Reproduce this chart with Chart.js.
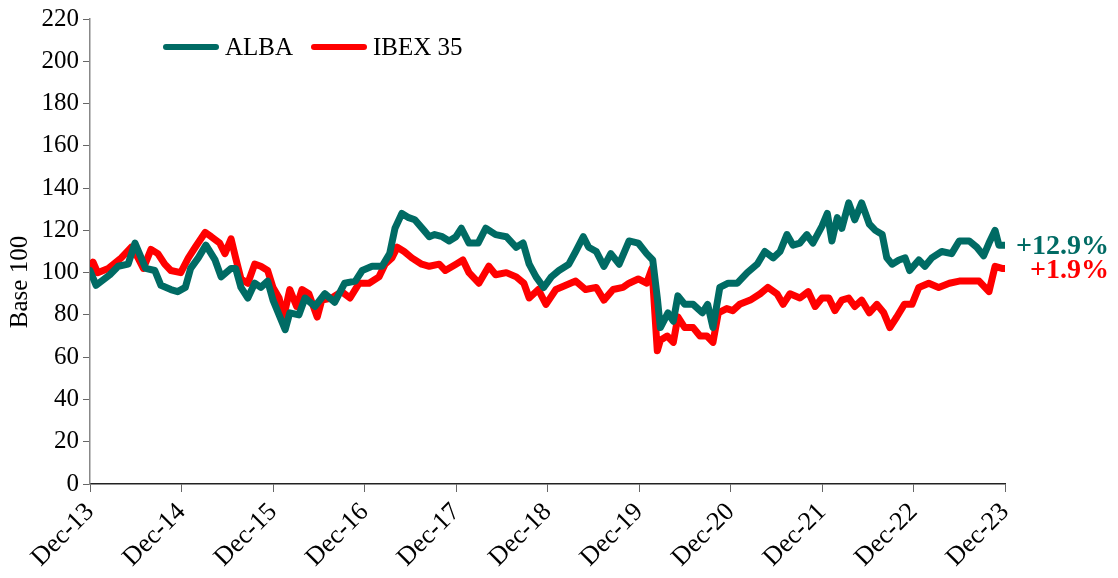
<!DOCTYPE html>
<html>
<head>
<meta charset="utf-8">
<script src="https://cdn.jsdelivr.net/npm/chart.js@4.4.1/dist/chart.umd.min.js"></script>
<style>
  body { margin: 0; background: #fff; }
  canvas { display: block; }
</style>
</head>
<body>
<canvas id="canvas" width="1118" height="578"></canvas>
<script>
const tickLabels = ['Dec-13','Dec-14','Dec-15','Dec-16','Dec-17','Dec-18','Dec-19','Dec-20','Dec-21','Dec-22','Dec-23']

// months since Dec-13, base 100 values
const albaMonths = [0,0.8,2.6,3.7,5.0,5.9,7.3,8.5,9.3,10.6,11.5,12.5,13.2,14.2,15.2,16.4,17.2,18.5,19.1,19.8,20.7,21.6,22.4,23.3,24.0,25.6,26.2,27.4,28.2,29.5,30.8,32.1,33.4,34.8,35.7,37.0,38.3,39.3,40.0,40.9,41.8,42.6,43.8,44.5,45.2,46.2,47.1,48.0,48.7,49.7,50.9,51.9,53.2,54.6,55.9,56.8,57.6,58.5,59.5,60.5,61.5,62.8,63.7,64.7,65.4,66.4,67.4,68.3,69.4,70.7,71.9,73.0,73.8,74.4,74.8,75.8,76.5,77.1,78.0,79.1,80.3,81.0,81.7,82.6,83.7,84.9,86.2,87.5,88.5,89.6,90.5,91.4,92.2,93.1,94.0,94.8,96.0,96.7,97.3,98.0,98.6,99.5,100.3,101.2,102.2,103.0,103.9,104.5,105.2,106.1,106.9,107.5,108.7,109.5,110.4,111.7,113.0,114.0,115.3,116.3,117.2,117.9,118.7,119.2,120]
const albaValues = [101,94,99,103,104,114,102,101,94,92,91,93,102,107,113,106,98,102,102,93,88,95,93,96,87,73,81,80,88,84,90,86,95,96,101,103,103,109,121,128,126,125,120,117,118,117,115,117,121,114,114,121,118,117,112,114,104,98,93,98,101,104,110,117,112,110,103,109,104,115,114,109,106,88,74,81,77,89,85,85,81,85,74,93,95,95,100,104,110,107,110,118,113,114,118,114,122,128,115,126,121,133,125,133,123,120,118,107,104,106,107,101,106,103,107,110,109,115,115,112,108,114,120,113,113]

const ibexMonths = [0,0.4,1.0,2.4,4.1,5.4,6.3,7.0,8.0,8.9,9.8,10.6,11.9,12.9,13.8,15.1,15.9,17.0,17.7,18.5,19.1,19.8,20.7,21.6,22.4,23.3,24.0,24.8,25.4,26.2,27.1,27.8,28.7,29.8,30.4,31.7,33.0,34.1,35.3,36.6,37.9,38.7,39.6,40.3,41.2,42.2,43.5,44.5,45.8,46.6,48.0,48.9,49.7,51.0,52.3,53.2,54.6,55.9,56.9,57.6,58.8,59.8,61.1,62.4,63.7,65.0,66.4,67.4,68.6,69.9,70.7,71.9,73.0,73.7,74.4,74.8,75.7,76.5,77.1,78.0,79.1,80.0,80.9,81.7,82.4,83.5,84.3,85.2,86.6,87.9,88.9,90.1,90.9,91.8,93.1,94.2,95.1,96.0,96.9,97.7,98.6,99.5,100.3,101.2,102.2,103.2,104.1,104.9,105.8,106.8,107.8,108.7,110.0,111.3,112.7,114.0,115.3,116.6,117.9,118.7,119.6,120]
const ibexValues = [102,105,100,102,107,112,107,102,111,109,104,101,100,107,112,119,117,114,109,116,107,97,95,104,103,101,93,88,79,92,84,92,90,79,87,88,91,88,95,95,98,104,107,112,110,107,104,103,104,101,104,106,100,95,103,99,100,98,95,88,92,85,92,94,96,92,93,87,92,93,95,97,95,102,63,68,70,67,79,74,74,70,70,67,81,83,82,85,87,90,93,90,85,90,88,91,84,88,88,82,87,88,84,87,81,85,81,74,79,85,85,93,95,93,95,96,96,96,91,103,102,102]

const endLabels = ['+12.9%', '+1.9%']
const seriesNames = ['ALBA', 'IBEX 35']
const seriesColors = ['#006B64', '#FF0000']

const toPoints = (xs, ys) => xs.map((m, i) => ({x: m, y: ys[i]}))

const serif = '"Liberation Serif", "Times New Roman", serif'

const extras = {
    id: 'extras',
    afterDatasetsDraw(chart) {
        const ctx = chart.ctx
        const area = chart.chartArea
        ctx.save()
        // legend
        ctx.font = '25px ' + serif
        ctx.textBaseline = 'middle'
        const lx = [area.left + 76, area.left + 224]
        seriesNames.forEach((name, i) => {
            ctx.strokeStyle = seriesColors[i]
            ctx.lineWidth = 6
            ctx.lineCap = 'round'
            ctx.beginPath()
            ctx.moveTo(lx[i], 47)
            ctx.lineTo(lx[i] + 50, 47)
            ctx.stroke()
            ctx.fillStyle = '#000'
            ctx.textAlign = 'left'
            ctx.fillText(name, lx[i] + 59, 48)
        })
        // end labels
        ctx.font = 'bold 28px ' + serif
        ctx.textAlign = 'right'
        chart.data.datasets.forEach((ds, i) => {
            const meta = chart.getDatasetMeta(i)
            const last = meta.data[meta.data.length - 1]
            ctx.fillStyle = seriesColors[i]
            ctx.fillText(endLabels[i], area.right + 104, last.y + 2)
        })
        // y axis title
        ctx.font = '25px ' + serif
        ctx.fillStyle = '#000'
        ctx.translate(20, 282)
        ctx.rotate(-Math.PI / 2)
        ctx.textAlign = 'center'
        ctx.fillText('Base 100', 0, 0)
        ctx.restore()
    }
}

const data = {
    datasets: [
        {
            label: seriesNames[0],
            data: toPoints(albaMonths, albaValues),
            borderColor: seriesColors[0],
            backgroundColor: seriesColors[0],
        },
        {
            label: seriesNames[1],
            data: toPoints(ibexMonths, ibexValues),
            borderColor: seriesColors[1],
            backgroundColor: seriesColors[1],
        },
    ],
}

const config = {
    type: 'line',
    data: data,
    options: {
        responsive: false,
        animation: false,
        layout: { padding: { top: 18, right: 113, left: 0, bottom: 0 } },
        elements: {
            point: { radius: 0 },
            line: { borderWidth: 7, tension: 0, borderJoinStyle: 'round', borderCapStyle: 'round' },
        },
        plugins: { legend: { display: false }, tooltip: { enabled: false } },
        scales: {
            x: {
                type: 'linear',
                min: 0,
                max: 120,
                afterFit: s => { s.height = 94 },
                afterBuildTicks: s => { s.ticks = tickLabels.map((t, i) => ({ value: i * 12 })) },
                ticks: {
                    autoSkip: false,
                    maxRotation: 45,
                    minRotation: 45,
                    padding: 5,
                    color: '#000',
                    font: { family: serif, size: 26 },
                    callback: v => tickLabels[Math.round(v / 12)],
                },
                grid: { drawOnChartArea: false, tickLength: 8, color: '#666' },
                border: { color: '#222', width: 1.5 },
            },
            y: {
                min: 0,
                max: 220,
                afterFit: s => { s.width = 90 },
                ticks: {
                    stepSize: 20,
                    padding: 4,
                    color: '#000',
                    font: { family: serif, size: 25 },
                },
                grid: { drawOnChartArea: false, tickLength: 7, color: '#666' },
                border: { color: '#888', width: 1.5 },
            },
        },
    },
    plugins: [extras],
}

const canvas = document.getElementById('canvas')
const chart = new Chart(canvas, config)
</script>
</body>
</html>
